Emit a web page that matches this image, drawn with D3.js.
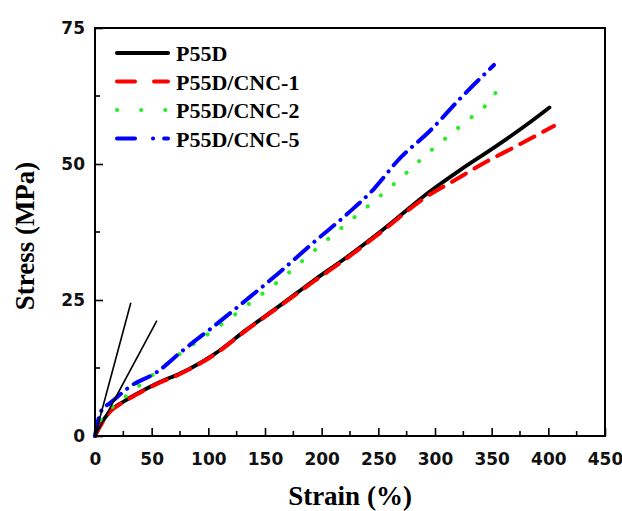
<!doctype html>
<html lang="en">
  <head>
    <meta charset="utf-8" />
    <title>Stress strain</title>
    <style>
      body { margin: 0; background: #fff; }
    </style>
  </head>
  <body>
    <div id="chart"></div>
    <script src="https://d3js.org/d3.v7.min.js"></script>
    <script>
// values
var seriesNames = ["P55D", "P55D/CNC-1", "P55D/CNC-2", "P55D/CNC-5"];

var p55dStrain = [0, 4, 13, 25, 40, 55, 75, 84, 105, 134, 164, 193, 223, 252, 264, 294, 323, 352, 382, 401];
var p55dStress = [0, 1.7, 4.5, 6.3, 8.1, 9.7, 11.5, 12.4, 15.0, 19.6, 24.1, 28.6, 33, 37.6, 39.6, 44.7, 49.0, 53.0, 57.4, 60.4];

var cnc1Strain = [0, 4, 13, 25, 40, 55, 75, 105, 134, 164, 193, 223, 252, 294, 314, 346, 370, 405];
var cnc1Stress = [0, 1.6, 4.4, 6.2, 8.0, 9.6, 11.4, 14.9, 19.5, 24.0, 28.4, 32.8, 37.4, 44.2, 46.6, 50.5, 53.1, 57.0];

var cnc2Strain = [0, 5, 13, 31, 63, 75, 105, 134, 164, 193, 223, 240, 268, 296, 326, 347, 358];
var cnc2Stress = [0, 2.5, 4.8, 7.9, 13.2, 15.1, 19.5, 24.0, 28.8, 34.0, 39.2, 42.1, 47.1, 52.4, 57.6, 61.3, 64.5];

var cnc5Strain = [0, 1.5, 6, 13, 31, 55, 75, 84, 105, 134, 164, 193, 223, 246, 267, 297, 323, 352];
var cnc5Stress = [0, 1.7, 4.8, 6.0, 9.1, 11.8, 15.3, 16.8, 20.2, 25.1, 30.3, 35.6, 40.9, 45.4, 50.6, 56.4, 62.2, 68.2];

// two thin modulus lines from the origin
var tangentEnds = [[31.6, 24.5], [54.6, 21.2]];

var xTicks = [0, 50, 100, 150, 200, 250, 300, 350, 400, 450];
var yTicks = [0, 25, 50, 75];

var colors = ["#000000", "#ff0000", "#22ee22", "#0000ff"];
var dashes = [null, "16,10", "0.1,17", "18,8,0.1,8"];

var W = 622, H = 511;
var plot = {left: 95, right: 605, top: 28, bottom: 436};

var svg = d3.select("#chart").append("svg")
  .attr("width", W)
  .attr("height", H);

var x = d3.scaleLinear().domain([0, 450]).range([plot.left, plot.right]);
var y = d3.scaleLinear().domain([0, 75]).range([plot.bottom, plot.top]);

var allSeries = [
  d3.zip(p55dStrain, p55dStress),
  d3.zip(cnc1Strain, cnc1Stress),
  d3.zip(cnc2Strain, cnc2Stress),
  d3.zip(cnc5Strain, cnc5Stress)
];

var line = d3.line()
  .x(function(d){ return x(d[0]); })
  .y(function(d){ return y(d[1]); })
  .curve(d3.curveMonotoneX);

// curves
allSeries.forEach(function(s, i) {
  svg.append("path")
    .datum(s)
    .attr("d", line)
    .attr("fill", "none")
    .attr("stroke", colors[i])
    .attr("stroke-width", i == 0 ? 3.8 : 4)
    .attr("stroke-linecap", "round")
    .attr("stroke-dasharray", dashes[i]);
});

// thin lines
tangentEnds.forEach(function(e) {
  svg.append("line")
    .attr("x1", x(0)).attr("y1", y(0))
    .attr("x2", x(e[0])).attr("y2", y(e[1]))
    .attr("stroke", "#000")
    .attr("stroke-width", 1.6);
});

// axes with inward ticks
var xAxis = d3.axisBottom(x).tickValues(xTicks).tickSize(-8).tickPadding(17).tickFormat(d3.format("d"));
var yAxis = d3.axisLeft(y).tickValues(yTicks).tickSize(-8).tickPadding(10).tickFormat(d3.format("d"));

var gx = svg.append("g").attr("transform", "translate(0," + plot.bottom + ")").call(xAxis);
var gy = svg.append("g").attr("transform", "translate(" + plot.left + ",0)").call(yAxis);

[gx, gy].forEach(function(g) {
  g.select(".domain").remove();
  g.selectAll(".tick line").attr("stroke", "#000").attr("stroke-width", 1.6);
  g.selectAll("text")
    .attr("fill", "#111")
    .style("font-family", "DejaVu Sans")
    .style("font-weight", "bold")
    .style("font-size", "17px");
});

// minor ticks
var xMinor = xTicks.slice(0, -1).map(function(v){ return v + 25; });
var yMinor = yTicks.slice(0, -1).map(function(v){ return v + 12.5; });
svg.selectAll(".xminor").data(xMinor).enter().append("line")
  .attr("x1", function(d){ return x(d); }).attr("x2", function(d){ return x(d); })
  .attr("y1", plot.bottom).attr("y2", plot.bottom - 5)
  .attr("stroke", "#000").attr("stroke-width", 1.6);
svg.selectAll(".yminor").data(yMinor).enter().append("line")
  .attr("y1", function(d){ return y(d); }).attr("y2", function(d){ return y(d); })
  .attr("x1", plot.left).attr("x2", plot.left + 5)
  .attr("stroke", "#000").attr("stroke-width", 1.6);

// frame
svg.append("rect")
  .attr("x", plot.left).attr("y", plot.top)
  .attr("width", plot.right - plot.left).attr("height", plot.bottom - plot.top)
  .attr("fill", "none")
  .attr("stroke", "#000")
  .attr("stroke-width", 2);

// axis titles
svg.append("text")
  .attr("x", (plot.left + plot.right) / 2)
  .attr("y", 505)
  .attr("text-anchor", "middle")
  .style("font-family", "Liberation Serif")
  .style("font-weight", "bold")
  .style("font-size", "27px")
  .text("Strain (%)");

svg.append("text")
  .attr("transform", "translate(34," + 236 + ") rotate(-90)")
  .attr("text-anchor", "middle")
  .style("font-family", "Liberation Serif")
  .style("font-weight", "bold")
  .style("font-size", "27px")
  .text("Stress (MPa)");

// legend
var legend = svg.append("g");
seriesNames.forEach(function(name, i) {
  var ly = 53 + i * 28.5;
  legend.append("line")
    .attr("x1", 117).attr("x2", 168)
    .attr("y1", ly).attr("y2", ly)
    .attr("stroke", colors[i])
    .attr("stroke-width", 4)
    .attr("stroke-linecap", "round")
    .attr("stroke-dasharray", i == 0 ? null : (i == 1 ? "18,19" : (i == 2 ? "0.1,24" : "18,18,0.1,11")));
  legend.append("text")
    .attr("x", 176)
    .attr("y", ly + 8)
    .style("font-family", "Liberation Serif")
    .style("font-weight", "bold")
    .style("font-size", "22px")
    .text(name);
});
    </script>
  </body>
</html>
